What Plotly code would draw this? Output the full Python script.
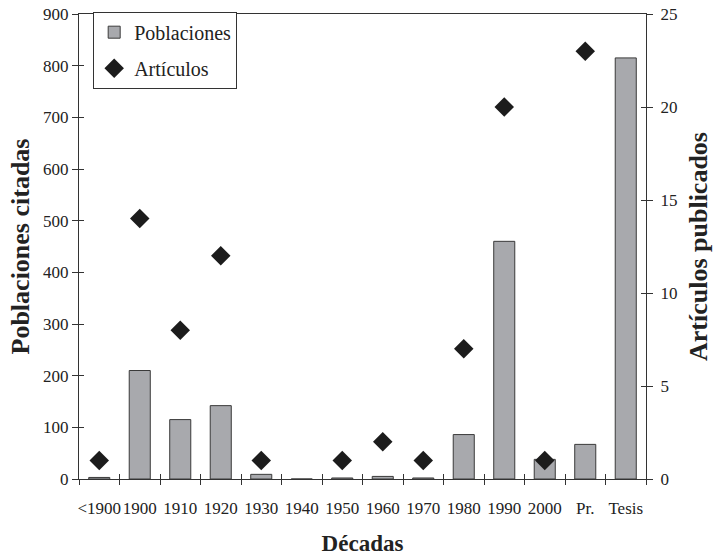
import plotly.graph_objects as go

# Décadas y series
decadas = ["<1900", "1900", "1910", "1920", "1930", "1940", "1950",
           "1960", "1970", "1980", "1990", "2000", "Pr.", "Tesis"]
poblaciones = [3, 210, 115, 142, 9, 0, 2, 5, 2, 86, 460, 38, 67, 815]
articulos = [1, 14, 8, 12, 1, None, 1, 2, 1, 7, 20, 1, 23, None]

FONT = "Liberation Serif"
AXIS_COLOR = "#333333"
TEXT_COLOR = "#222222"

fig = go.Figure()

fig.add_trace(go.Bar(
    x=decadas, y=poblaciones, name="Poblaciones",
    marker=dict(color="#a8a9ad", line=dict(color="#3a3a3a", width=1)),
    legendgroup="a", yaxis="y",
))

fig.add_trace(go.Scatter(
    x=decadas, y=articulos, name="Artículos", mode="markers",
    marker=dict(symbol="diamond", size=15, color="#1c1c1c"),
    legendgroup="b", yaxis="y2",
))

n = len(decadas)
bounds = [i - 0.5 for i in range(n + 1)]

fig.update_layout(
    width=713, height=556,
    margin=dict(l=79, r=67, t=14, b=77, autoexpand=False),
    paper_bgcolor="white", plot_bgcolor="white",
    font=dict(family=FONT, color=TEXT_COLOR, size=16),
    bargap=0.48,
    showlegend=True,
    legend=dict(
        x=0.025, y=1.005, xanchor="left", yanchor="top",
        bgcolor="white", bordercolor=AXIS_COLOR, borderwidth=1,
        font=dict(family=FONT, size=20, color=TEXT_COLOR),
        traceorder="grouped", tracegroupgap=7,
        itemwidth=30,
    ),
    xaxis=dict(
        type="category", tickson="boundaries", tickangle=0,
        automargin=False, ticklabelstandoff=14,
        ticks="outside", ticklen=5, tickcolor=AXIS_COLOR,
        showline=True, linecolor=AXIS_COLOR, linewidth=1, mirror=True,
        showgrid=False, zeroline=False,
        tickfont=dict(family=FONT, size=17, color=TEXT_COLOR),
        title=dict(text="<b>Décadas</b>", font=dict(family=FONT, size=23, color=TEXT_COLOR),
                   standoff=33),
        range=[-0.5, n - 0.5],
    ),
    xaxis3=dict(
        overlaying="x", anchor="y", range=[-0.5, n - 0.5],
        tickvals=bounds, showticklabels=False, automargin=False,
        ticks="inside", ticklen=5, tickcolor=AXIS_COLOR,
        showline=False, showgrid=False, zeroline=False,
    ),
    yaxis=dict(
        range=[0, 900], dtick=100, automargin=False,
        ticks="outside", ticklen=6, tickcolor=AXIS_COLOR,
        showline=True, linecolor=AXIS_COLOR, linewidth=1,
        showgrid=False, zeroline=False,
        tickfont=dict(family=FONT, size=17, color=TEXT_COLOR),
        title=dict(text="<b>Poblaciones citadas</b>", font=dict(family=FONT, size=26, color=TEXT_COLOR),
                   standoff=5),
    ),
    yaxis3=dict(
        overlaying="y", side="left", anchor="x", range=[0, 900], dtick=100,
        automargin=False,
        ticks="inside", ticklen=5, tickcolor=AXIS_COLOR,
        showticklabels=False, showline=False, showgrid=False, zeroline=False,
    ),
    yaxis2=dict(
        overlaying="y", side="right", anchor="x", range=[0, 25], dtick=5,
        automargin=False, ticklabelstandoff=4,
        ticks="outside", ticklen=6, tickcolor=AXIS_COLOR,
        showline=True, linecolor=AXIS_COLOR, linewidth=1,
        showgrid=False, zeroline=False,
        tickfont=dict(family=FONT, size=17, color=TEXT_COLOR),
        title=dict(text="<b>Artículos publicados</b>", font=dict(family=FONT, size=26, color=TEXT_COLOR),
                   standoff=12),
    ),
    yaxis4=dict(
        overlaying="y", side="right", anchor="x", range=[0, 25], dtick=5,
        automargin=False,
        ticks="inside", ticklen=5, tickcolor=AXIS_COLOR,
        showticklabels=False, showline=False, showgrid=False, zeroline=False,
    ),
)

# invisible helper traces so the tick-only overlay axes are drawn
fig.add_trace(go.Scatter(x=[0], y=[0], xaxis="x3", yaxis="y3", mode="markers",
                         marker=dict(opacity=0), showlegend=False, hoverinfo="skip"))
fig.add_trace(go.Scatter(x=[0], y=[0], xaxis="x3", yaxis="y4", mode="markers",
                         marker=dict(opacity=0), showlegend=False, hoverinfo="skip"))

fig.write_html("out.html")
